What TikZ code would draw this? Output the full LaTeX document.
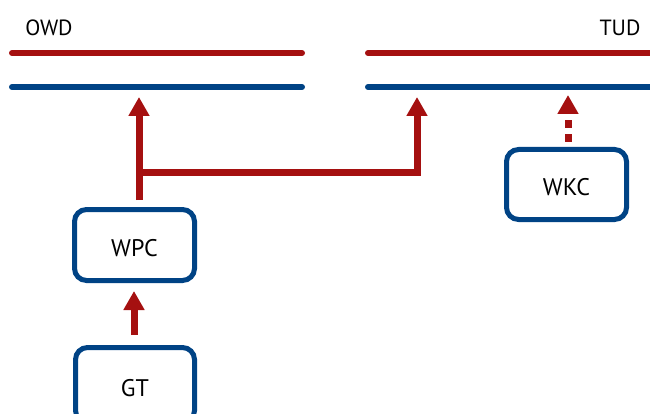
\documentclass[tikz,border=0pt]{standalone}
\usepackage{fontspec}
\setmainfont{PT Sans}
\usetikzlibrary{arrows.meta}
\definecolor{dred}{RGB}{165,16,16}
\definecolor{dblue}{RGB}{0,67,133}
\begin{document}
\begin{tikzpicture}[x=1pt,y=-1pt,
  busline/.style={line width=6pt,line cap=round},
  box/.style={draw=dblue,line width=5pt,rounded corners=12pt,minimum width=120pt,minimum height=71pt,inner sep=0pt,font=\fontsize{24}{28}\selectfont,text height=23pt,text depth=0pt},
  lbl/.style={font=\fontsize{22}{26}\selectfont,inner sep=0pt},
  flow/.style={draw=dred,line width=7pt,-{Triangle[width=20pt,length=19pt]}},
]
\useasboundingbox (0,0) rectangle (650,414);
% labels
\node[lbl] (owd) at (49,28) {OWD};
\node[lbl] (tud) at (620,28) {TUD};
% buses
\coordinate (owdr1) at (12,53); \coordinate (owdr2) at (302,53);
\coordinate (owdb1) at (12,87); \coordinate (owdb2) at (302,87);
\coordinate (tudr1) at (368,53); \coordinate (tudr2) at (680,53);
\coordinate (tudb1) at (368,87); \coordinate (tudb2) at (680,87);
\draw[busline,dred] (owdr1) -- (owdr2);
\draw[busline,dblue] (owdb1) -- (owdb2);
\draw[busline,dred] (tudr1) -- (tudr2);
\draw[busline,dblue] (tudb1) -- (tudb2);
% boxes
\node[box] (WPC) at (134.5,245) {WPC};
\node[box,minimum height=70pt] (WKC) at (566.5,184.5) {WKC};
\node[box,minimum width=119pt,minimum height=75pt] (GT) at (135,385) {GT};
% arrow targets
\coordinate (owdin) at (139,97);
\coordinate (tudin) at (417,97);
\coordinate (wkcin) at (568,95);
\coordinate (branch) at (139,173);
\coordinate (wpcout) at (139,200);
\coordinate (gtout) at (134,335);
\coordinate (wpcin) at (134,291);
\coordinate (wkcout) at (568,142);
% connectors
\draw[flow] (wpcout) -- (owdin);
\draw[flow] (branch) -| (tudin);
\draw[flow] (gtout) -- (wpcin);
\draw[flow,dash pattern=on 8pt off 6pt] (wkcout) -- (wkcin);
\end{tikzpicture}
\end{document}
